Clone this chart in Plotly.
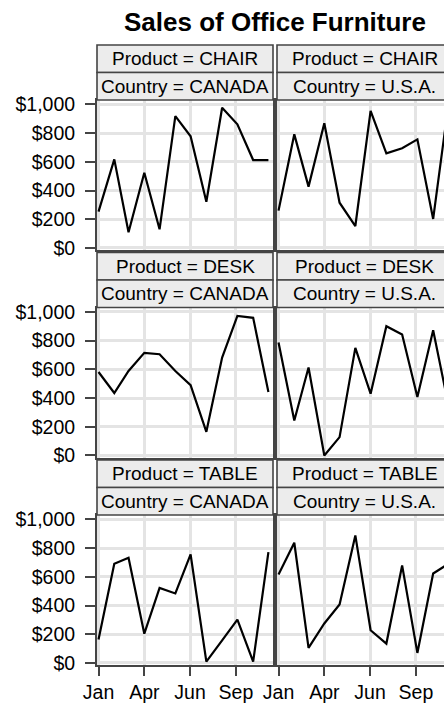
import plotly.graph_objects as go
import pandas as pd

# ---------------- data ----------------
months = ["1993-01-01", "1993-02-01", "1993-03-01", "1993-04-01", "1993-05-01", "1993-06-01",
          "1993-07-01", "1993-08-01", "1993-09-01", "1993-10-01", "1993-11-01", "1993-12-01"]
products = ["CHAIR", "DESK", "TABLE"]
countries = ["CANADA", "U.S.A."]

canada_chair = [253, 617, 109, 524, 130, 918, 777, 322, 976, 861, 612, 612]
usa_chair = [260, 791, 427, 868, 315, 153, 955, 659, 694, 756, 202, 1000]
canada_desk = [581, 435, 588, 714, 705, 588, 490, 165, 682, 972, 958, 442]
usa_desk = [786, 244, 612, 0, 128, 749, 430, 900, 842, 407, 872, 350]
canada_table = [163, 691, 733, 204, 523, 484, 756, 10, 158, 302, 10, 772]
usa_table = [616, 837, 105, 275, 407, 888, 228, 135, 679, 70, 623, 690]

x_tickvals = ["1993-01-01", "1993-04-01", "1993-06-30", "1993-09-28"]
x_ticktext = ["Jan", "Apr", "Jun", "Sep"]
y_tickvals = [0, 200, 400, 600, 800, 1000]
y_ticktext = ["$0", "$200", "$400", "$600", "$800", "$1,000"]

series = {
    ("CHAIR", "CANADA"): canada_chair, ("CHAIR", "U.S.A."): usa_chair,
    ("DESK", "CANADA"): canada_desk, ("DESK", "U.S.A."): usa_desk,
    ("TABLE", "CANADA"): canada_table, ("TABLE", "U.S.A."): usa_table,
}

# ---------------- layout geometry (pixels) ----------------
W, H = 444, 704
FONT = "Liberation Sans, Arial, sans-serif"
BORDER = "#444444"
col_px = [(97, 273), (277, 452)]          # right column is cut by the page edge
row_pitch = 207.5
plot_top0, plot_h = 100, 150
strip_h = 27.5

def px_x(p):
    return p / W

def px_y(p):
    return 1 - p / H

start = pd.Timestamp("1992-12-29")
days_left = 346
ppd = (col_px[0][1] - col_px[0][0]) / days_left
end_left = start + pd.Timedelta(days=days_left)
end_right = start + pd.Timedelta(days=(W - col_px[1][0]) / ppd)
x_ranges = [[str(start), str(end_left)], [str(start), str(end_right)]]

fig = go.Figure()
layout = dict(
    width=W, height=H, margin=dict(l=0, r=0, t=0, b=0, pad=0, autoexpand=False),
    paper_bgcolor="white", plot_bgcolor="white", showlegend=False,
    font=dict(family=FONT, size=19, color="black"),
)
shapes, annotations = [], []

for r, prod in enumerate(products):
    top = plot_top0 + r * row_pitch
    bot = top + plot_h
    for c, ctry in enumerate(countries):
        i = r * 2 + c + 1
        xa = "xaxis" if i == 1 else f"xaxis{i}"
        ya = "yaxis" if i == 1 else f"yaxis{i}"
        xr = "x" if i == 1 else f"x{i}"
        yr = "y" if i == 1 else f"y{i}"
        x0p, x1p = col_px[c]
        dom_x1 = min(x1p, W)
        layout[xa] = dict(
            domain=[px_x(x0p), px_x(dom_x1)], anchor=yr, type="date",
            range=x_ranges[c], tickvals=x_tickvals, ticktext=x_ticktext,
            showticklabels=(r == 2), ticks="outside" if r == 2 else "",
            ticklen=9, tickwidth=1.5, tickcolor=BORDER,
            tickfont=dict(size=19.5, family=FONT, color="black"),
            showgrid=True, gridcolor="#e4e4e4", gridwidth=2.5,
            showline=True, linecolor=BORDER, linewidth=2, mirror=True,
            zeroline=False, fixedrange=True, automargin=False,
        )
        layout[ya] = dict(
            domain=[px_y(bot), px_y(top)], anchor=xr,
            range=[-14, 1030], tickvals=y_tickvals, ticktext=y_ticktext,
            showticklabels=(c == 0), ticks="outside" if c == 0 else "",
            ticklen=10, tickwidth=1.5, tickcolor=BORDER,
            tickfont=dict(size=19.5, family=FONT, color="black"),
            ticklabelstandoff=6,
            showgrid=True, gridcolor="#e4e4e4", gridwidth=2.5,
            showline=True, linecolor=BORDER, linewidth=2, mirror=(c == 0),
            zeroline=False, fixedrange=True, automargin=False,
        )
        fig.add_trace(go.Scatter(
            x=months, y=series[(prod, ctry)], mode="lines",
            line=dict(color="black", width=2.2), xaxis=xr, yaxis=yr,
            hoverinfo="skip",
        ))
        # strips
        s_top = top - 2 * strip_h
        for k, txt in enumerate([f"Product = {prod}", f"Country = {ctry}"]):
            y0 = s_top + k * strip_h
            y1 = y0 + strip_h
            shapes.append(dict(
                type="rect", xref="paper", yref="paper",
                x0=px_x(x0p), x1=px_x(x1p), y0=px_y(y1), y1=px_y(y0),
                fillcolor="#ececec", line=dict(color=BORDER, width=1.6), layer="above",
            ))
            annotations.append(dict(
                text=txt, xref="paper", yref="paper",
                x=px_x((x0p + x1p) / 2), y=px_y((y0 + y1) / 2),
                xanchor="center", yanchor="middle", showarrow=False,
                font=dict(size=19, family=FONT, color="black"),
            ))

annotations.append(dict(
    text="<b>Sales of Office Furniture</b>", xref="paper", yref="paper",
    x=px_x((col_px[0][0] + col_px[1][1]) / 2), y=px_y(22),
    xanchor="center", yanchor="middle", showarrow=False,
    font=dict(size=26, family=FONT, color="black"),
))

layout["shapes"] = shapes
layout["annotations"] = annotations
fig.update_layout(**layout)
fig.write_html(
    "out.html",
    config={"displayModeBar": False},
    post_script="document.body.style.margin='0';document.body.style.overflow='hidden';",
)
